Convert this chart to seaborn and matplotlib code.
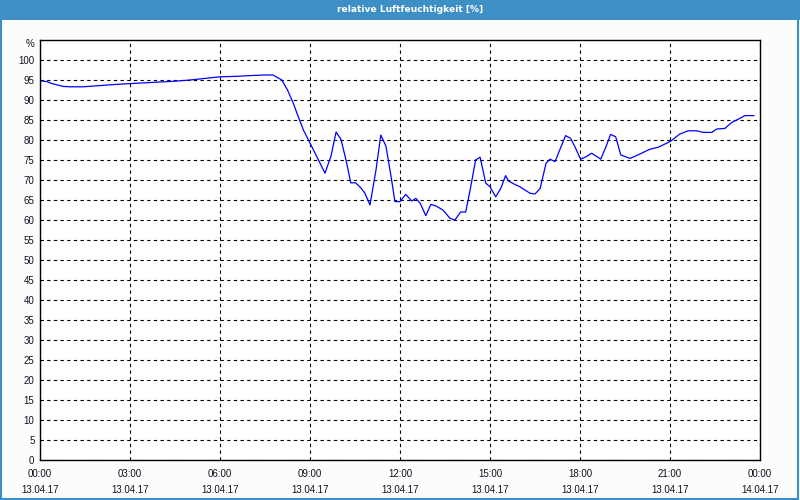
import numpy as np
import pandas as pd
import matplotlib
matplotlib.use("Agg")
import matplotlib.pyplot as plt
import matplotlib.transforms as mtransforms
from matplotlib.patches import Rectangle
import seaborn as sns

# humidity readings, hours since 13.04.17 00:00
hours = [0.0, 0.23, 0.4, 0.77, 1.0, 1.43, 2.0, 2.33, 3.0, 3.5, 4.0, 4.5, 5.0, 5.5, 6.0,
         6.5, 7.0, 7.5, 7.77, 8.06, 8.25, 8.44, 8.6, 8.78, 9.0, 9.25, 9.5, 9.7, 9.87,
         10.03, 10.2, 10.36, 10.52, 10.7, 10.83, 11.0, 11.2, 11.36, 11.53, 11.7, 11.83,
         12.0, 12.19, 12.39, 12.53, 12.67, 12.86, 13.03, 13.2, 13.43, 13.67, 13.83, 14.02,
         14.19, 14.35, 14.52, 14.67, 14.86, 15.0, 15.19, 15.36, 15.52, 15.61, 15.8, 16.0,
         16.33, 16.5, 16.67, 16.87, 17.0, 17.17, 17.35, 17.52, 17.69, 17.85, 18.02, 18.2,
         18.39, 18.69, 18.85, 19.02, 19.19, 19.36, 19.67, 20.0, 20.33, 20.61, 21.0, 21.33,
         21.61, 21.89, 22.11, 22.39, 22.56, 22.83, 23.06, 23.3, 23.5, 23.8]
humidity = [94.8, 94.6, 94.1, 93.4, 93.3, 93.3, 93.6, 93.8, 94.1, 94.3, 94.5, 94.7, 95.0, 95.4, 95.8,
            95.9, 96.1, 96.25, 96.25, 95.0, 92.5, 89.25, 86.0, 82.5, 79.25, 75.5, 71.7, 76.0, 82.0,
            80.2, 75.0, 69.3, 69.3, 68.0, 66.7, 63.75, 72.5, 81.25, 78.5, 71.0, 64.6,
            64.6, 66.4, 64.75, 65.4, 64.2, 61.1, 63.9, 63.5, 62.5, 60.4, 60.0, 62.0,
            62.0, 68.0, 75.0, 75.7, 69.2, 68.3, 65.8, 67.9, 71.1, 69.8, 69.0, 68.3,
            66.7, 66.5, 67.9, 74.2, 75.2, 74.6, 78.0, 81.1, 80.4, 78.0, 75.2, 75.8,
            76.7, 75.2, 78.0, 81.4, 80.8, 76.25, 75.4, 76.5, 77.7, 78.2, 79.6, 81.5,
            82.3, 82.3, 81.9, 81.9, 82.75, 82.9, 84.4, 85.3, 86.1, 86.1]

tick_hours = [0, 3, 6, 9, 12, 15, 18, 21, 24]
tick_labels = ["00:00\n13.04.17", "03:00\n13.04.17", "06:00\n13.04.17", "09:00\n13.04.17",
               "12:00\n13.04.17", "15:00\n13.04.17", "18:00\n13.04.17", "21:00\n13.04.17",
               "00:00\n14.04.17"]
y_ticks = list(range(0, 101, 5))

df = pd.DataFrame({"Stunde": hours, "Feuchte": humidity})

sns.set_style("white")
plt.rcParams['font.family'] = ['Liberation Sans', 'DejaVu Sans']

fig = plt.figure(figsize=(8, 5), dpi=100, facecolor='#fbfdfc')
ax = fig.add_axes([0.05, 0.08, 0.9, 0.84])
ax.set_facecolor('white')

# title bar and blue frame
fig.patches.append(Rectangle((0, 0.96), 1, 0.04, transform=fig.transFigure,
                             facecolor='#3d8fc6', edgecolor='none', zorder=0))
fig.patches.append(Rectangle((0.001, 0.002), 0.997, 0.996, transform=fig.transFigure,
                             facecolor='none', edgecolor='#3d8fc6', linewidth=1.5, zorder=0))
fig.text(0.512, 0.981, "relative Luftfeuchtigkeit [%]", color='white', fontsize=6.6,
         fontweight='bold', family='DejaVu Sans', ha='center', va='center')

sns.lineplot(data=df, x="Stunde", y="Feuchte", color='#0000ff', linewidth=0.9, ax=ax)

ax.set_xlim(0, 24)
ax.set_ylim(0, 105)
ax.set_xticks(tick_hours)
ax.set_xticklabels(tick_labels, fontsize=7, linespacing=1.7, color='#101020')
ax.set_xticks(range(0, 25), minor=True)
ax.set_yticks(y_ticks)
ax.set_yticklabels([str(v) for v in y_ticks], fontsize=7, color='#101020')
ax.tick_params(axis='x', which='both', direction='out', length=3.5, width=0.8, color='black', pad=3)
ax.tick_params(axis='y', length=0, pad=4)
ax.set_xlabel("")
ax.set_ylabel("")

ax.grid(True, which='major', color='black', linestyle=(0, (3, 3)), linewidth=0.8)
for s in ax.spines.values():
    s.set_color('black')
    s.set_linewidth(1.0)

trans = mtransforms.blended_transform_factory(ax.transAxes, ax.transData)
ax.text(-0.0075, 104, "%", transform=trans, ha='right', va='center', fontsize=7,
        color='#101020')

plt.savefig('out.png', dpi=100, facecolor=fig.get_facecolor())
